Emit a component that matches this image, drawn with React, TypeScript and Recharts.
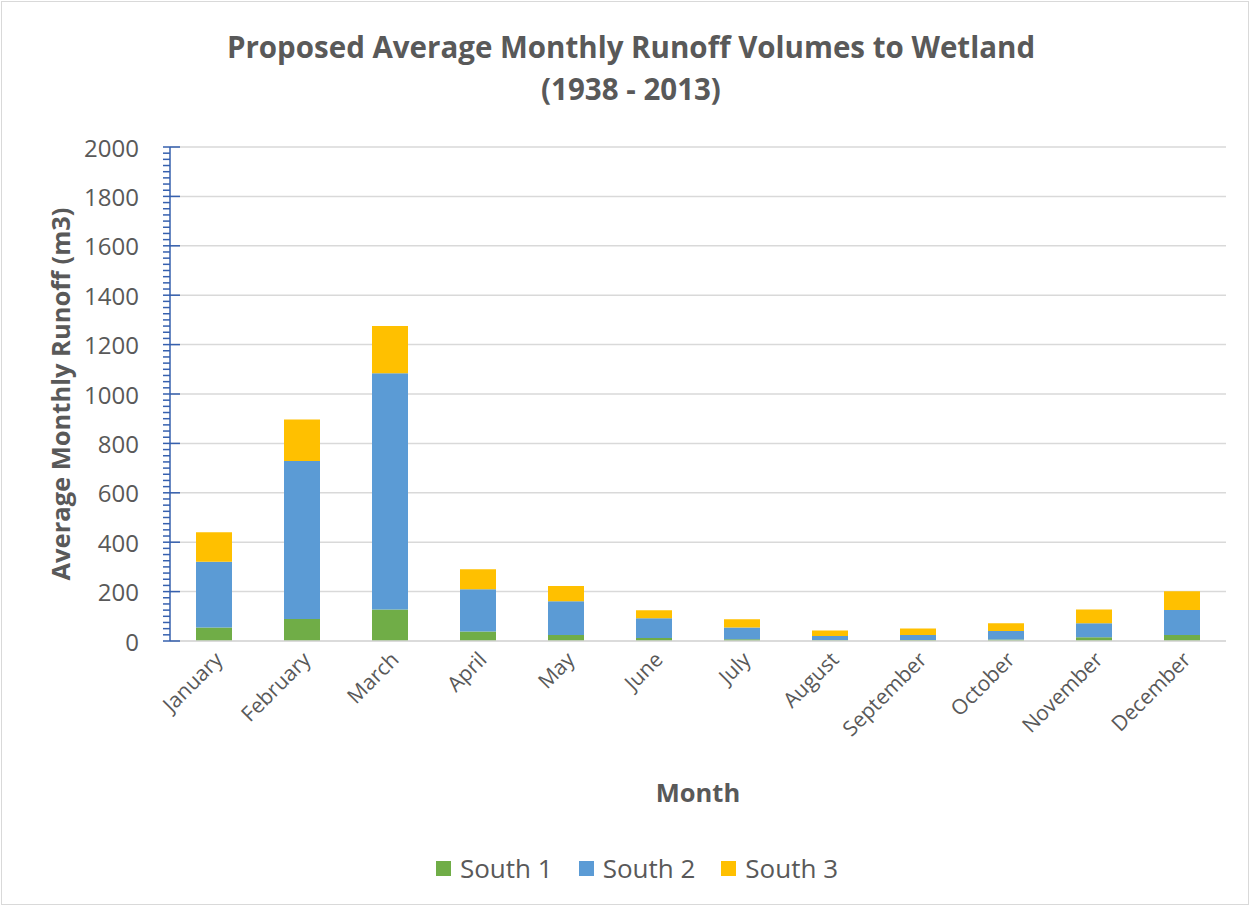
import React from 'react';
import { BarChart, Bar, XAxis, YAxis, CartesianGrid, Legend } from 'recharts';

const months = [
  'January', 'February', 'March', 'April', 'May', 'June',
  'July', 'August', 'September', 'October', 'November', 'December',
];
const south1 = [55, 89, 128, 38, 24, 12, 7, 3, 4, 6, 15, 24];
const south2 = [266, 640, 956, 172, 137, 80, 48, 17, 20, 34, 57, 102];
const south3 = [119, 168, 191, 80, 62, 32, 33, 23, 27, 32, 56, 75];
const yMajor = [0, 200, 400, 600, 800, 1000, 1200, 1400, 1600, 1800, 2000];
const yMinorStep = 25;

const GREEN = '#70AD47';
const BLUE = '#5B9BD5';
const GOLD = '#FFC000';
const TEXT = '#595959';
const AXIS_BLUE = '#3660AE';
const GRID = '#D9D9D9';
const FONT = '"Open Sans", sans-serif';

const data = months.map((m, i) => ({
  month: m,
  s1: south1[i],
  s2: south2[i],
  s3: south3[i],
}));

const yTicks: number[] = [];
for (let v = 0; v <= 2000; v += yMinorStep) yTicks.push(v);

const YTick = ({ x, y, payload }: any) => {
  const v = payload.value as number;
  const major = v % 200 === 0;
  const ax = x + 31;
  return (
    <g>
      <line x1={ax - 7} x2={major ? ax + 10 : ax} y1={y} y2={y} stroke={AXIS_BLUE} strokeWidth={1.5} />
      {major && (
        <text x={x} y={y} textAnchor="end" dominantBaseline="central" fill={TEXT} fontSize={24} fontFamily={FONT}>
          {v}
        </text>
      )}
    </g>
  );
};

const XTick = ({ x, y, payload }: any) => (
  <text
    x={x + 10}
    y={y + 12}
    textAnchor="end"
    fill={TEXT}
    fontSize={21}
    fontFamily={FONT}
    transform={`rotate(-45 ${x + 10} ${y + 12})`}
  >
    {payload.value}
  </text>
);

const YLabel = ({ viewBox }: any) => {
  const cx = viewBox.x + 20;
  const cy = viewBox.y + viewBox.height / 2;
  return (
    <text
      x={cx}
      y={cy}
      textAnchor="middle"
      dominantBaseline="central"
      fill={TEXT}
      fontSize={25.5}
      fontWeight="bold"
      fontFamily={FONT}
      transform={`rotate(-90 ${cx} ${cy})`}
    >
      Average Monthly Runoff (m3)
    </text>
  );
};

const LegendContent = ({ payload }: any) => (
  <div
    style={{
      display: 'flex',
      justifyContent: 'center',
      gap: 26,
      height: 30,
      lineHeight: '30px',
      fontFamily: FONT,
      fontSize: 26,
      color: TEXT,
      paddingLeft: 8,
    }}
  >
    {(payload || []).map((p: any) => (
      <div key={p.value} style={{ display: 'flex', alignItems: 'center' }}>
        <span style={{ width: 15, height: 15, background: p.color, display: 'inline-block', marginRight: 9 }} />
        <span>{p.value}</span>
      </div>
    ))}
  </div>
);

export default function App() {
  return (
    <div style={{ position: 'absolute', left: 0, top: 0, width: 1253, height: 909, background: '#fff' }}>
      <div
        style={{
          position: 'absolute',
          left: 1,
          top: 1,
          width: 1248,
          height: 904,
          border: '1px solid #D9D9D9',
          boxSizing: 'border-box',
        }}
      />
      <div
        style={{
          position: 'absolute',
          top: 26,
          left: 0,
          width: 1262,
          textAlign: 'center',
          fontFamily: FONT,
          fontWeight: 'bold',
          fontSize: 29.5,
          lineHeight: '42px',
          color: TEXT,
        }}
      >
        Proposed Average Monthly Runoff Volumes to Wetland
        <br />
        (1938 - 2013)
      </div>
      <div style={{ position: 'absolute', left: 0, top: 0 }}>
        <BarChart
          width={1253}
          height={909}
          data={data}
          margin={{ top: 147, right: 27, left: 40, bottom: 26 }}
          barSize={36}
        >
          <CartesianGrid vertical={false} stroke={GRID} strokeWidth={1.5} horizontalValues={yMajor} />
          <XAxis
            dataKey="month"
            height={212}
            interval={0}
            axisLine={{ stroke: GRID, strokeWidth: 1.5 }}
            tickLine={false}
            tick={<XTick />}
            label={{
              value: 'Month',
              position: 'insideBottom',
              offset: 51,
              fill: TEXT,
              fontSize: 25.5,
              fontWeight: 'bold',
              fontFamily: FONT,
            }}
          />
          <YAxis
            width={130}
            domain={[0, 2000]}
            ticks={yTicks}
            interval={0}
            tickSize={0}
            tickMargin={31}
            axisLine={{ stroke: AXIS_BLUE, strokeWidth: 1.5 }}
            tickLine={false}
            tick={<YTick />}
            label={<YLabel />}
          />
          <Legend verticalAlign="bottom" content={<LegendContent />} />
          <Bar dataKey="s1" name="South 1" stackId="a" fill={GREEN} isAnimationActive={false} />
          <Bar dataKey="s2" name="South 2" stackId="a" fill={BLUE} isAnimationActive={false} />
          <Bar dataKey="s3" name="South 3" stackId="a" fill={GOLD} isAnimationActive={false} />
        </BarChart>
      </div>
    </div>
  );
}
